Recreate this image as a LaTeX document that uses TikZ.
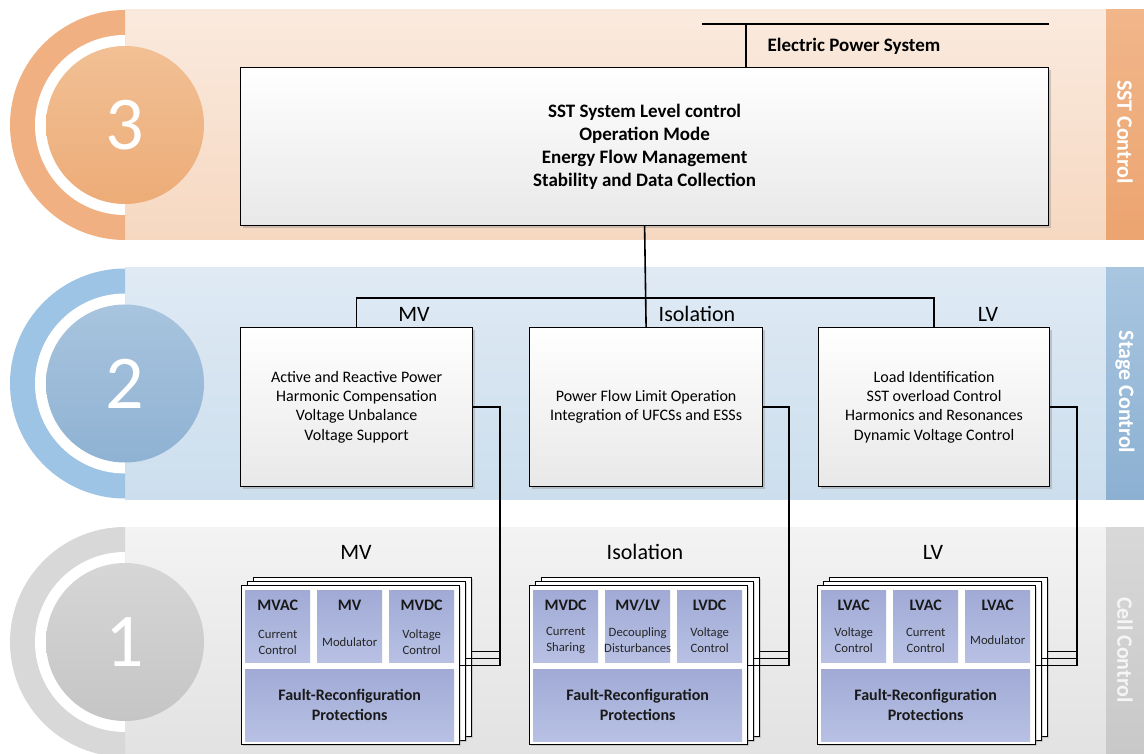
\documentclass[tikz,border=0pt]{standalone}
\usepackage{fontspec}
\setmainfont{Carlito}
\usetikzlibrary{shadows,calc}
\definecolor{bandThreeT}{RGB}{250,234,222}
\definecolor{bandThreeB}{RGB}{246,216,193}
\definecolor{stripThreeT}{RGB}{241,182,138}
\definecolor{stripThreeB}{RGB}{236,164,112}
\definecolor{ringThree}{RGB}{240,176,130}
\definecolor{circThreeT}{RGB}{241,192,148}
\definecolor{circThreeB}{RGB}{237,172,120}
\definecolor{bandTwoT}{RGB}{223,234,244}
\definecolor{bandTwoB}{RGB}{204,222,237}
\definecolor{stripTwoT}{RGB}{168,198,224}
\definecolor{stripTwoB}{RGB}{140,176,210}
\definecolor{ringTwo}{RGB}{157,195,229}
\definecolor{circTwoT}{RGB}{168,196,222}
\definecolor{circTwoB}{RGB}{143,178,211}
\definecolor{bandOneT}{RGB}{243,243,243}
\definecolor{bandOneB}{RGB}{226,226,226}
\definecolor{stripOneT}{RGB}{216,216,216}
\definecolor{stripOneB}{RGB}{200,200,200}
\definecolor{ringOne}{RGB}{216,216,216}
\definecolor{circOneT}{RGB}{214,214,214}
\definecolor{circOneB}{RGB}{197,197,197}
\definecolor{blockT}{RGB}{160,170,213}
\definecolor{blockB}{RGB}{184,193,228}
\begin{document}
\begin{tikzpicture}[x=1pt,y=-1pt,
  conn/.style={draw=black,line width=1.6pt},
  bigbox/.style={draw=black,line width=1.2pt,top color=white,bottom color=black!9,
     drop shadow={shadow xshift=2.5pt,shadow yshift=-2.5pt,opacity=0.35},
     anchor=north west,inner sep=0pt,align=center},
  cellbox/.style={draw=black,line width=1.2pt,fill=white,anchor=north west,
     minimum width=218,minimum height=159,inner sep=0pt,
     drop shadow={shadow xshift=1.5pt,shadow yshift=-1.5pt,opacity=0.3}},
  block/.style={top color=blockT,bottom color=blockB,draw=none,anchor=north west,inner sep=0pt},
  blktitle/.style={font=\fontsize{16}{20}\selectfont\bfseries,text=black!90,align=center},
  blkdesc/.style={font=\fontsize{12.7}{16}\selectfont,text=black!85,align=center},
  lbl/.style={font=\fontsize{22}{26}\selectfont,text=black},
  num/.style={font=\fontsize{76}{76}\selectfont,text=white},
  striptext/.style={font=\fontsize{22}{26}\selectfont\bfseries,text=white,rotate=-90}
]
\useasboundingbox (0,0) rectangle (1144,754);
\fill[white] (0,0) rectangle (1144,754);
\begin{scope}
\clip (0,0) rectangle (1144,754);
% bands
\shade[top color=bandThreeT,bottom color=bandThreeB] (125,10) rectangle (1106,240);
\shade[top color=stripThreeT,bottom color=stripThreeB] (1106,10) rectangle (1144,240);
\shade[top color=bandTwoT,bottom color=bandTwoB] (125,268) rectangle (1106,499);
\shade[top color=stripTwoT,bottom color=stripTwoB] (1106,268) rectangle (1144,499);
\shade[top color=bandOneT,bottom color=bandOneB] (125,527) rectangle (1106,757);
\shade[top color=stripOneT,bottom color=stripOneB] (1106,527) rectangle (1144,757);
% half rings
\begin{scope}
\clip (0,0) rectangle (125,760);
\fill[ringThree] (125,125) circle[radius=115];
\fill[white] (125,125) circle[radius=90];
\fill[ringTwo] (125,383.5) circle[radius=115];
\fill[white] (125,383.5) circle[radius=90];
\fill[ringOne] (125,642) circle[radius=115];
\fill[white] (125,642) circle[radius=90];
\end{scope}
\shade[top color=circThreeT,bottom color=circThreeB] (125,125) circle[radius=79];
\shade[top color=circTwoT,bottom color=circTwoB] (125,383.5) circle[radius=79];
\shade[top color=circOneT,bottom color=circOneB] (125,642) circle[radius=79];
\end{scope}
\node[num] (n3) at (125,125) {3};
\node[num] (n2) at (125,383.5) {2};
\node[num] (n1) at (125,642) {1};
\node[striptext] (s3) at (1125,132) {SST Control};
\node[striptext] (s2) at (1125,392) {Stage Control};
\node[striptext,text=white!96!black] (s1) at (1125,650) {Cell Control};

% top level
\node[bigbox,minimum width=808,minimum height=158,
  font=\fontsize{19}{23}\selectfont\bfseries] (sys) at (240,67)
  {SST System Level control\\Operation Mode\\Energy Flow Management\\Stability and Data Collection};
\coordinate (epL) at (702,24);
\coordinate (epR) at (1049,24);
\coordinate (eptap) at (746,24);
\draw[conn] (epL) -- (epR);
\draw[conn] (eptap) -- (eptap |- sys.north);
\node[font=\fontsize{19}{23}\selectfont\bfseries] (eps) at (854,46) {Electric Power System};

% stage boxes
\node[bigbox,minimum width=232,minimum height=159,font=\fontsize{16}{19.3}\selectfont] (mvs) at (240,327)
  {Active and Reactive Power\\Harmonic Compensation\\Voltage Unbalance\\Voltage Support};
\node[bigbox,minimum width=233,minimum height=159,font=\fontsize{16}{19.3}\selectfont] (isos) at (529,327)
  {Power Flow Limit Operation\\Integration of UFCSs and ESSs};
\node[bigbox,minimum width=231,minimum height=159,font=\fontsize{16}{19.3}\selectfont] (lvs) at (818,327)
  {Load Identification\\SST overload Control\\Harmonics and Resonances\\Dynamic Voltage Control};
\coordinate (bus) at (645,298);
\draw[conn] (sys.south) -- (isos.north);
\draw[conn] (mvs.north) -- (mvs.north |- bus) -- (lvs.north |- bus) -- (lvs.north);
\node[lbl] (mvl) at (414,314) {MV};
\node[lbl] (isol) at (697,314) {Isolation};
\node[lbl] (lvl) at (988,314) {LV};

% cell labels
\node[lbl] (mvc) at (356,552) {MV};
\node[lbl] (isoc) at (645,552) {Isolation};
\node[lbl] (lvc) at (933,552) {LV};

% stacks
\foreach \nm/\X in {mv/241,iso/529,lv/817}{
  \node[cellbox] (\nm3) at (\X+12,577) {};
  \node[cellbox] (\nm2) at (\X+6,581) {};
  \node[cellbox] (\nm1) at (\X,585) {};
  \node[block,minimum width=65,minimum height=72] (\nm a) at (\X+4,590) {};
  \node[block,minimum width=65,minimum height=72] (\nm b) at (\X+76,590) {};
  \node[block,minimum width=65,minimum height=72] (\nm c) at (\X+148,590) {};
  \node[block,minimum width=209,minimum height=72] (\nm f) at (\X+4,669) {};
  \node[blktitle] at (\nm f.center) {Fault-Reconfiguration\\Protections};
}
% block texts
\node[blktitle] at ($(mva.north)+(0,15)$) {MVAC};
\node[blkdesc] at ($(mva.north)+(0,52)$) {Current\\Control};
\node[blktitle] at ($(mvb.north)+(0,15)$) {MV};
\node[blkdesc] at ($(mvb.north)+(0,52)$) {Modulator};
\node[blktitle] at ($(mvc.north)+(0,15)$) {MVDC};
\node[blkdesc] at ($(mvc.north)+(0,52)$) {Voltage\\Control};
\node[blktitle] at ($(isoa.north)+(0,15)$) {MVDC};
\node[blkdesc] at ($(isoa.north)+(0,50)$) {Current\\Sharing};
\node[blktitle] at ($(isob.north)+(0,15)$) {MV/LV};
\node[blkdesc] at ($(isob.north)+(0,50)$) {Decoupling\\Disturbances};
\node[blktitle] at ($(isoc.north)+(0,15)$) {LVDC};
\node[blkdesc] at ($(isoc.north)+(0,50)$) {Voltage\\Control};
\node[blktitle] at ($(lva.north)+(0,15)$) {LVAC};
\node[blkdesc] at ($(lva.north)+(0,50)$) {Voltage\\Control};
\node[blktitle] at ($(lvb.north)+(0,15)$) {LVAC};
\node[blkdesc] at ($(lvb.north)+(0,50)$) {Current\\Control};
\node[blktitle] at ($(lvc.north)+(0,15)$) {LVAC};
\node[blkdesc] at ($(lvc.north)+(0,50)$) {Modulator};

% stage -> cell connectors
\foreach \st/\nm/\dx in {mvs/mv/500,isos/iso/789,lvs/lv/1077}{
  \coordinate (\nm x) at (\dx,0);
  \draw[conn] (\st.east) -| ($(\nm1.east -| \nm x)+(0,0.5)$) -- ($(\nm1.east)+(0,0.5)$);
  \draw[conn] ($(\nm2.east)+(0,-2.5)$) -- ($(\nm2.east -| \nm x)+(0,-2.5)$);
  \draw[conn] ($(\nm3.east)+(0,-5.5)$) -- ($(\nm3.east -| \nm x)+(0,-5.5)$);
}
\end{tikzpicture}
\end{document}
